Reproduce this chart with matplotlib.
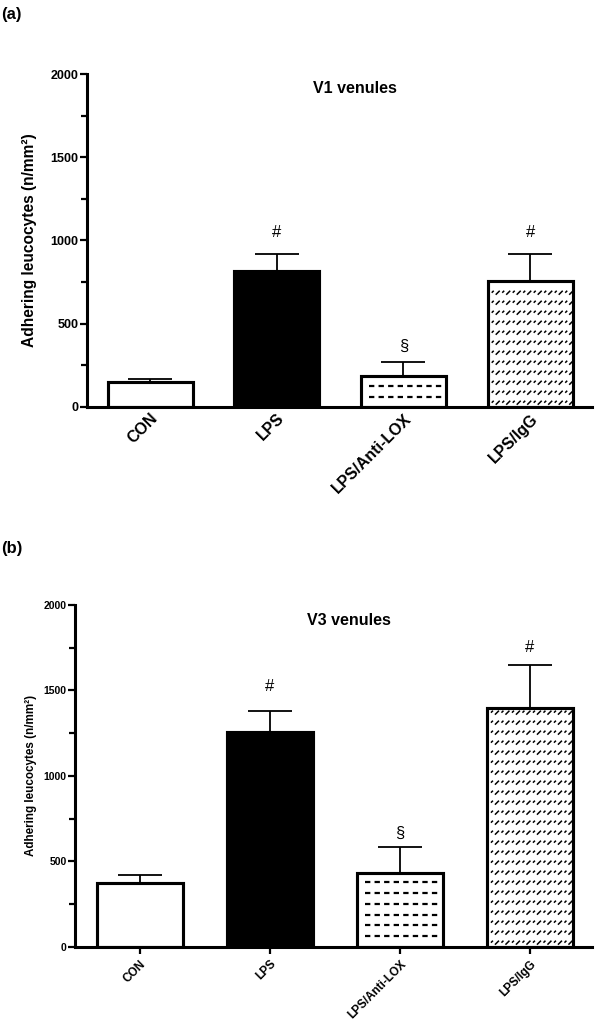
import numpy as np
import matplotlib
matplotlib.use('Agg')
import matplotlib.pyplot as plt
from matplotlib.collections import LineCollection

plt.rcParams['font.family'] = ['Liberation Sans', 'DejaVu Sans']

groups = ['CON', 'LPS', 'LPS/Anti-LOX', 'LPS/IgG']

# panel (a): V1 venules
v1_mean = [151, 814, 187, 755]
v1_sem = [18, 107, 80, 166]
v1_marks = ['', '#', '§', '#']
v1_mark_y = [0, 1047, 360, 1047]

# panel (b): V3 venules
v3_mean = [375, 1258, 433, 1395]
v3_sem = [45, 122, 152, 254]
v3_marks = ['', '#', '§', '#']
v3_mark_y = [0, 1522, 663, 1750]

yticks = [0, 500, 1000, 1500, 2000]


def dashed_rows(ax, rect, step=64, first=60):
    # horizontal dashed lines inside the bar
    x0 = rect.get_x()
    x1 = x0 + rect.get_width()
    h = rect.get_height()
    ys = np.arange(first, h - 25, step)
    ax.hlines(ys, x0 + 0.06, x1 - 0.03, colors='k', lw=1.6,
              linestyles=(0, (2.4, 1.9)), zorder=3)


def slash_fill(ax, rect):
    # grid of short diagonal strokes, built in pixel space
    p0 = ax.transData.transform((rect.get_x(), 0))
    p1 = ax.transData.transform((rect.get_x() + rect.get_width(), rect.get_height()))
    segs = []
    for yy in np.arange(p0[1] + 1, p1[1] - 6, 10):
        for xx in np.arange(p0[0] + 4, p1[0] - 6, 10.5):
            segs.append([(xx, yy + 3), (xx + 2, yy + 5)])
            segs.append([(xx + 4, yy + 1), (xx + 8, yy + 5)])
    inv = ax.transData.inverted()
    segs = [inv.transform(np.array(s)) for s in segs]
    ax.add_collection(LineCollection(segs, colors='k', linewidths=1.1, zorder=3))


def panel(rect, mean, sem, marks, mark_y, title, letter, letter_y,
          tick_fs, lab_fs, xt_fs, xlim, width, ylab_x, xtick_len):
    ax = fig.add_axes(rect)
    x = np.arange(len(groups))
    ax.set_xlim(*xlim)
    ax.set_ylim(0, 2000)
    faces = ['white', 'black', 'white', 'white']
    bars = ax.bar(x, mean, width, color=faces, edgecolor='black', linewidth=2.2, zorder=2)
    dashed_rows(ax, bars[2])
    slash_fill(ax, bars[3])
    # outlines on top of the patterns
    ax.bar(x, mean, width, color='none', edgecolor='black', linewidth=2.2, zorder=4)
    ax.errorbar(x, mean, yerr=[np.zeros(len(sem)), sem], fmt='none', ecolor='black',
                elinewidth=1.3, capsize=16, capthick=1.3, zorder=1)
    for xi, m, my in zip(x, marks, mark_y):
        if m:
            ax.text(xi, my, m, ha='center', va='center', fontsize=12)

    for s in ['top', 'right']:
        ax.spines[s].set_visible(False)
    ax.spines['left'].set_linewidth(2.2)
    ax.spines['bottom'].set_linewidth(2.2)
    ax.set_yticks(yticks)
    ax.set_yticks(np.arange(250, 2000, 500), minor=True)
    ax.set_yticklabels([str(t) for t in yticks], fontsize=tick_fs, fontweight='bold')
    ax.tick_params(axis='y', which='major', length=5, width=1.6, pad=1)
    ax.tick_params(axis='y', which='minor', length=4, width=1.6)
    ax.set_xticks(x)
    ax.set_xticklabels(groups, rotation=45, ha='right', rotation_mode='anchor',
                       fontsize=xt_fs, fontweight='bold')
    ax.tick_params(axis='x', length=xtick_len, width=1.6, pad=3)
    ax.set_ylabel('Adhering leucocytes (n/mm²)', fontsize=lab_fs, fontweight='bold')
    ax.yaxis.set_label_coords(ylab_x, 0.5)
    ax.text(0.53, 0.956, title, transform=ax.transAxes, ha='center', va='center',
            fontsize=11.5, fontweight='bold')
    fig.text(0.002, letter_y, letter, ha='left', va='center', fontsize=12, fontweight='bold')
    return ax


fig = plt.figure(figsize=(6, 10.31), dpi=100)

panel([0.145, 0.6055, 0.842, 0.3227], v1_mean, v1_sem, v1_marks, v1_mark_y,
      'V1 venules', '(a)', 1 - 15 / 1031, 9, 11.2, 11.5, (-0.499, 3.49), 0.67, -0.099, 0)
panel([0.125, 0.0818, 0.862, 0.3314], v3_mean, v3_sem, v3_marks, v3_mark_y,
      'V3 venules', '(b)', 1 - 548 / 1031, 7.5, 8.4, 8.5, (-0.5, 3.48), 0.66, -0.074, 5)

fig.savefig('out.png', dpi=100)
